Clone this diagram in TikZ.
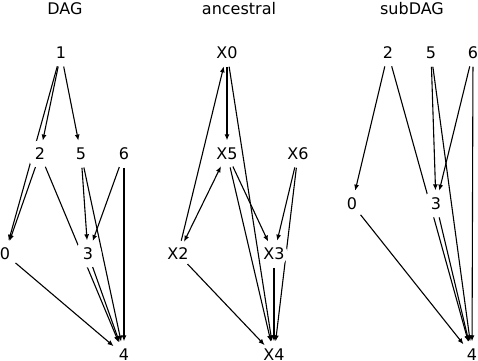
\documentclass[tikz,border=0pt]{standalone}
\usepackage{fontspec}
\setmainfont{DejaVu Sans}
\usetikzlibrary{arrows.meta, backgrounds}
\tikzset{
  vertex/.style={circle, fill=white, inner sep=0pt, minimum size=27pt, font=\fontsize{16}{18}\selectfont},
  edge/.style={-{Latex[length=6pt, width=5pt]}, line width=1.1pt},
  biedge/.style={{Latex[length=6pt, width=5pt]}-{Latex[length=6pt, width=5pt]}, line width=1.1pt},
  ptitle/.style={font=\fontsize{16}{18}\selectfont}
}

\begin{document}
\begin{tikzpicture}[x=1pt, y=-1pt]
  \useasboundingbox (0,0) rectangle (478,360);

  % Titles
  \node[ptitle] (tdag) at (65, 9) {DAG};
  \node[ptitle] (tanc) at (239, 9) {ancestral};
  \node[ptitle] (tsub) at (412, 9) {subDAG};

  % DAG
  \foreach \n/\x/\y/\t in {d1/61/53/1, d2/40/154/2, d5/81/154/5, d6/124/154/6,
                           d0/5/254/0, d3/88/254/3, d4/124/355/4} {
    \node[vertex] (\n) at (\x, \y) {\t};
  }

  % ancestral
  \foreach \n/\x/\y/\t in {a0/227/53/X0, a5/227/154/X5, a6/298/154/X6,
                           a2/178/254/X2, a3/274/254/X3, a4/274/355/X4} {
    \node[vertex] (\n) at (\x, \y) {\t};
  }

  % subDAG
  \foreach \n/\x/\y/\t in {s2/388/53/2, s5/431/53/5, s6/473/53/6,
                           s0/352/204/0, s3/436/204/3, s4/472/355/4} {
    \node[vertex] (\n) at (\x, \y) {\t};
  }

  \begin{scope}[on background layer]
    \fill[white] (0,0) rectangle (478,360);
    % DAG edges
    \foreach \a/\b in {d1/d2, d1/d0, d1/d5, d2/d0, d2/d4, d5/d3, d5/d4,
                       d6/d3, d6/d4, d3/d4, d0/d4} {
      \draw[edge] (\a) -- (\b);
    }
    % ancestral edges
    \foreach \a/\b in {a0/a5, a2/a0, a0/a4, a5/a3, a5/a4, a6/a3, a6/a4,
                       a3/a4, a2/a4} {
      \draw[edge] (\a) -- (\b);
    }
    \draw[biedge] (a5) -- (a2);
    % subDAG edges
    \foreach \a/\b in {s2/s0, s2/s4, s5/s3, s5/s4, s6/s3, s6/s4, s3/s4, s0/s4} {
      \draw[edge] (\a) -- (\b);
    }
  \end{scope}
\end{tikzpicture}
\end{document}
